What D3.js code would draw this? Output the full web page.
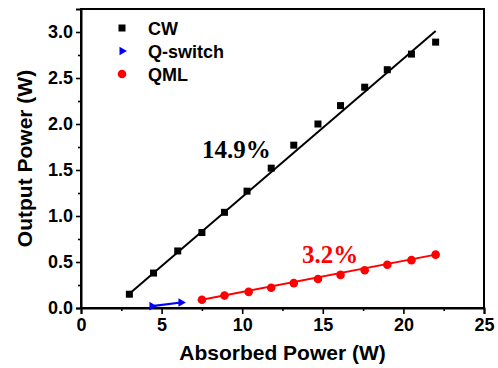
<!DOCTYPE html>
<html><head><meta charset="utf-8">
<script src="https://cdn.jsdelivr.net/npm/d3@7"></script>
<style>body{margin:0;background:#fff}svg{display:block}</style>
</head><body>
<svg id="c" width="498" height="368"></svg>
<script>
const cwX   = [3.0, 4.5, 6.0, 7.5, 8.9, 10.3, 11.8, 13.2, 14.7, 16.1, 17.6, 19.0, 20.5, 22.0];
const cwY   = [0.15, 0.38, 0.62, 0.82, 1.04, 1.27, 1.52, 1.77, 2.00, 2.20, 2.40, 2.59, 2.76, 2.89];
const cwFit = [[3.0, 0.155], [22.0, 3.01]];
const qsX   = [4.4, 6.2];
const qsY   = [0.02, 0.06];
const qmlX  = [7.5, 8.9, 10.4, 11.8, 13.2, 14.7, 16.1, 17.6, 19.0, 20.5, 22.0];
const qmlY  = [0.09, 0.135, 0.175, 0.22, 0.27, 0.315, 0.36, 0.41, 0.47, 0.52, 0.58];
const qmlFit = [[7.5, 0.09], [22.0, 0.58]];
const xTicks = [0, 5, 10, 15, 20, 25];
const yTicks = [0.0, 0.5, 1.0, 1.5, 2.0, 2.5, 3.0];
const legendLabels = ["CW", "Q-switch", "QML"];
const slopeLabels = ["14.9%", "3.2%"];

const svg = d3.select("#c");
const L = 81, R = 484, T = 9, B = 308;
const x = d3.scaleLinear().domain([0, 25]).range([L, R]);
const y = d3.scaleLinear().domain([0, 3.25]).range([B, T]);
const sans = "'Liberation Sans', Arial, sans-serif";
const serif = "'Liberation Serif', 'Times New Roman', serif";

// frame
svg.append("rect").attr("x", L).attr("y", T).attr("width", R - L).attr("height", B - T)
  .attr("fill", "none").attr("stroke", "#000").attr("stroke-width", 2);

// x axis
const xAxis = d3.axisBottom(x).tickValues(xTicks).tickFormat(d3.format("d")).tickSize(6).tickPadding(4);
const gx = svg.append("g").attr("transform", `translate(0,${B})`).call(xAxis);
gx.select(".domain").attr("stroke-width", 2);
gx.selectAll(".tick line").attr("stroke-width", 1.6);
gx.selectAll("text").attr("font-family", sans).attr("font-weight", "bold").attr("font-size", 18).attr("fill", "#000");
const gxm = svg.append("g").attr("transform", `translate(0,${B})`)
  .call(d3.axisBottom(x).tickValues(d3.range(2.5, 25, 5)).tickSize(3).tickFormat(""));
gxm.select(".domain").remove();
gxm.selectAll(".tick line").attr("stroke-width", 1.6);

// y axis
const yAxis = d3.axisLeft(y).tickValues(yTicks).tickFormat(d3.format(".1f")).tickSize(5).tickPadding(3);
const gy = svg.append("g").attr("transform", `translate(${L},0)`).call(yAxis);
gy.select(".domain").attr("stroke-width", 2);
gy.selectAll(".tick line").attr("stroke-width", 1.6);
gy.selectAll("text").attr("font-family", sans).attr("font-weight", "bold").attr("font-size", 18).attr("fill", "#000");
const gym = svg.append("g").attr("transform", `translate(${L},0)`)
  .call(d3.axisLeft(y).tickValues(d3.range(0.25, 3.25, 0.5)).tickSize(3).tickFormat(""));
gym.select(".domain").remove();
gym.selectAll(".tick line").attr("stroke-width", 1.6);

// titles
svg.append("text").attr("x", (L + R) / 2).attr("y", 360).attr("text-anchor", "middle")
  .attr("font-family", sans).attr("font-weight", "bold").attr("font-size", 21).text("Absorbed Power (W)");
svg.append("text").attr("transform", `translate(32,${(T + B) / 2}) rotate(-90)`).attr("text-anchor", "middle")
  .attr("font-family", sans).attr("font-weight", "bold").attr("font-size", 21).text("Output Power (W)");

const line = d3.line().x(d => x(d[0])).y(d => y(d[1]));

// fits
svg.append("path").attr("d", line(cwFit)).attr("stroke", "#000").attr("stroke-width", 2).attr("fill", "none");
svg.append("path").attr("d", line(qmlFit)).attr("stroke", "#f00").attr("stroke-width", 2).attr("fill", "none");
svg.append("path").attr("d", line(qsX.map((v, i) => [v, qsY[i]]))).attr("stroke", "#00f").attr("stroke-width", 2.2).attr("fill", "none");

// markers
svg.append("g").selectAll("rect").data(cwX.map((v, i) => [v, cwY[i]])).join("rect")
  .attr("x", d => x(d[0]) - 3.5).attr("y", d => y(d[1]) - 3.5).attr("width", 7).attr("height", 7).attr("fill", "#000");
svg.append("g").selectAll("circle").data(qmlX.map((v, i) => [v, qmlY[i]])).join("circle")
  .attr("cx", d => x(d[0])).attr("cy", d => y(d[1])).attr("r", 4.3).attr("fill", "#f00");
const tri = d3.symbol().type(d3.symbolTriangle).size(32);
svg.append("g").selectAll("path").data(qsX.map((v, i) => [v, qsY[i]])).join("path")
  .attr("d", tri).attr("transform", d => `translate(${x(d[0])},${y(d[1])}) rotate(90)`).attr("fill", "#00f");

// legend
const lg = svg.append("g");
const ly = [28, 51, 74];
lg.append("rect").attr("x", 118.5).attr("y", ly[0] - 3.5).attr("width", 7).attr("height", 7).attr("fill", "#000");
lg.append("path").attr("d", tri).attr("transform", `translate(122,${ly[1]}) rotate(90)`).attr("fill", "#00f");
lg.append("circle").attr("cx", 122).attr("cy", ly[2]).attr("r", 4.3).attr("fill", "#f00");
legendLabels.forEach((t, i) => {
  lg.append("text").attr("x", 148).attr("y", ly[i] + 6.5).attr("font-family", sans).attr("font-weight", "bold")
    .attr("font-size", 18).text(t);
});

// slope labels
svg.append("text").attr("x", 202).attr("y", 158).attr("font-family", serif).attr("font-weight", "bold")
  .attr("font-size", 25).attr("fill", "#000").text(slopeLabels[0]);
svg.append("text").attr("x", 302).attr("y", 263).attr("font-family", serif).attr("font-weight", "bold")
  .attr("font-size", 25).attr("fill", "#f00").text(slopeLabels[1]);
</script>
</body></html>
